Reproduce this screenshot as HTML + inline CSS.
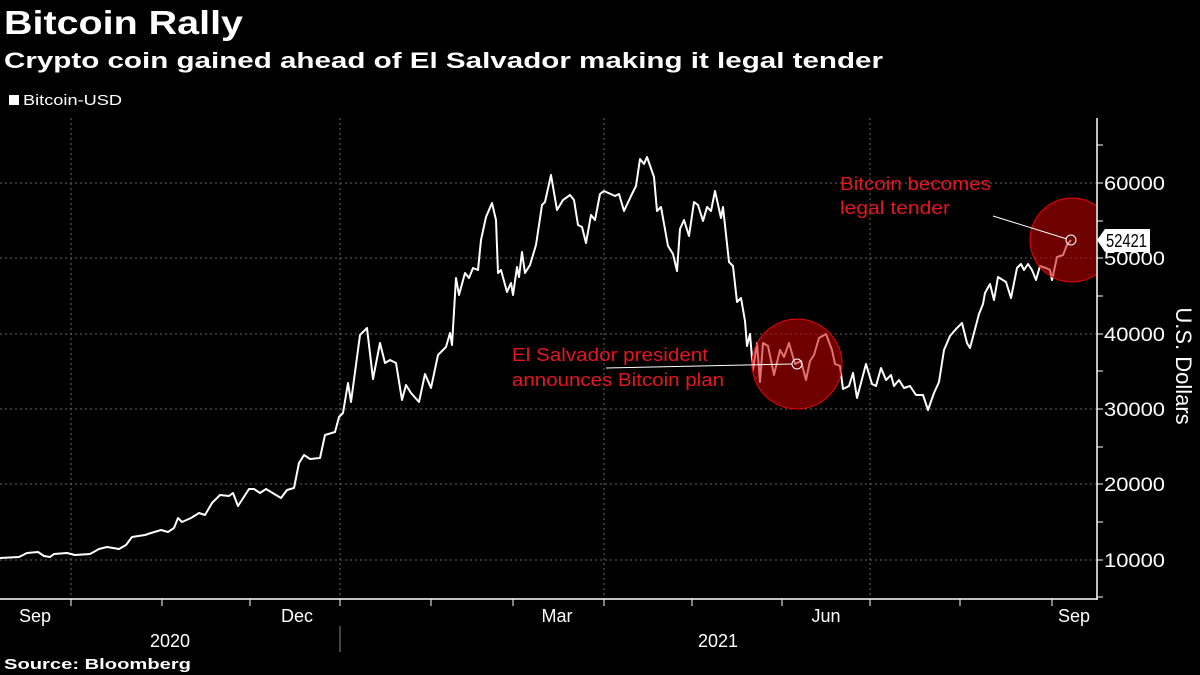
<!DOCTYPE html>
<html><head><meta charset="utf-8"><style>
html,body{margin:0;padding:0;background:#000;width:1200px;height:675px;overflow:hidden}
svg{display:block;font-family:"Liberation Sans",sans-serif}
</style></head><body>
<svg width="1200" height="675" viewBox="0 0 1200 675">
<rect width="1200" height="675" fill="#000"/>
<text x="4" y="34" fill="#fff" font-size="33" font-weight="bold" textLength="239" lengthAdjust="spacingAndGlyphs">Bitcoin Rally</text>
<text x="4" y="68" fill="#fff" font-size="22" font-weight="bold" textLength="879" lengthAdjust="spacingAndGlyphs">Crypto coin gained ahead of El Salvador making it legal tender</text>
<rect x="9" y="95" width="10" height="10" fill="#fff"/>
<text x="23" y="105" fill="#fff" font-size="15" textLength="99" lengthAdjust="spacingAndGlyphs">Bitcoin-USD</text>
<g stroke="#666" stroke-width="1" stroke-dasharray="2,3">
<line x1="0" y1="183" x2="1096" y2="183"/><line x1="0" y1="258" x2="1096" y2="258"/>
<line x1="0" y1="334" x2="1096" y2="334"/><line x1="0" y1="409" x2="1096" y2="409"/>
<line x1="0" y1="484" x2="1096" y2="484"/><line x1="0" y1="560" x2="1096" y2="560"/>
<line x1="71" y1="118" x2="71" y2="598"/><line x1="340" y1="118" x2="340" y2="598"/>
<line x1="604" y1="118" x2="604" y2="598"/><line x1="870" y1="118" x2="870" y2="598"/>
</g>
<polyline fill="none" stroke="#fff" stroke-width="2" stroke-linejoin="round" points="0,558 19,557 27,553 38,552 44,556 50,557 54,554 67,553 75,555 90,554 99,549 107,547 119,549 126,545 132,537 145,535 151,533 161,530 168,532 174,528 178,518 182,522 191,518 199,513 205,515 212,503 220,495 229,496 233,493 238,506 249,489 254,489 260,493 266,489 281,498 287,490 294,488 299,463 304,455 310,459 320,458 325,435 335,432 339,417 343,413 348,383 351,402 360,335 367,328 373,379 380,343 385,363 390,360 396,363 402,400 406,385 411,393 419,402 425,374 431,388 438,355 446,347 450,333 452,345 456,278 459,295 465,273 469,278 473,268 478,270 481,240 486,217 492,203 496,220 498,273 501,270 507,292 511,283 513,295 517,267 519,277 522,252 525,273 530,265 536,245 542,205 545,202 551,175 557,210 563,200 570,195 574,200 578,225 582,227 586,243 591,215 595,220 600,194 604,191 615,196 619,194 624,211 631,196 636,186 640,159 644,164 647,157 654,177 657,211 661,207 668,246 673,254 677,271 680,229 684,220 689,236 694,202 698,205 703,221 707,207 711,211 715,191 721,218 723,207 729,262 733,266 737,302 741,298 745,321 747,346 750,334 753,370 757,343 760,382 763,343 768,346 774,375 780,350 784,357 789,343 795,364 801,361 806,380 810,361 814,355 819,338 826,334 832,350 835,364 840,366 843,389 849,386 853,373 857,398 866,364 872,384 876,386 881,368 886,380 891,375 894,386 899,380 904,388 910,386 916,395 923,395 928,410 934,393 939,382 944,350 950,336 956,329 962,323 967,343 970,348 979,314 983,304 985,293 990,284 994,300 998,277 1006,282 1011,298 1017,268 1021,264 1024,270 1028,264 1032,270 1036,280 1040,266 1046,268 1050,270 1052,280 1057,257 1063,255 1067,245 1071,240"/>
<defs><clipPath id="c"><rect x="0" y="0" width="1096" height="600"/></clipPath></defs>
<g clip-path="url(#c)">
<circle cx="797" cy="364" r="45" fill="rgba(200,0,0,0.55)" stroke="#e00" stroke-width="1"/>
<circle cx="1072" cy="240" r="42" fill="rgba(200,0,0,0.55)" stroke="#e00" stroke-width="1"/>
</g>
<line x1="606" y1="368" x2="792" y2="364" stroke="#fff" stroke-width="1"/>
<circle cx="797" cy="364" r="5" fill="none" stroke="#fff" stroke-width="1"/>
<line x1="993" y1="216" x2="1067" y2="239" stroke="#fff" stroke-width="1"/>
<circle cx="1071" cy="240" r="5" fill="none" stroke="#fff" stroke-width="1"/>
<g fill="#e8141e" font-size="18" lengthAdjust="spacingAndGlyphs">
<text x="512" y="361" textLength="196" lengthAdjust="spacingAndGlyphs">El Salvador president</text>
<text x="512" y="386" textLength="212" lengthAdjust="spacingAndGlyphs">announces Bitcoin plan</text>
<text x="840" y="190" textLength="151" lengthAdjust="spacingAndGlyphs">Bitcoin becomes</text>
<text x="840" y="214" textLength="110" lengthAdjust="spacingAndGlyphs">legal tender</text>
</g>
<line x1="1097" y1="118" x2="1097" y2="600" stroke="#fff" stroke-width="1.5"/>
<g stroke="#fff" stroke-width="1">
<line x1="1097" y1="145" x2="1103" y2="145"/><line x1="1097" y1="183" x2="1103" y2="183"/>
<line x1="1097" y1="221" x2="1103" y2="221"/><line x1="1097" y1="258" x2="1103" y2="258"/>
<line x1="1097" y1="296" x2="1103" y2="296"/><line x1="1097" y1="334" x2="1103" y2="334"/>
<line x1="1097" y1="371" x2="1103" y2="371"/><line x1="1097" y1="409" x2="1103" y2="409"/>
<line x1="1097" y1="447" x2="1103" y2="447"/><line x1="1097" y1="484" x2="1103" y2="484"/>
<line x1="1097" y1="522" x2="1103" y2="522"/><line x1="1097" y1="560" x2="1103" y2="560"/>
<line x1="1097" y1="597" x2="1103" y2="597"/>
</g>
<g fill="#fff" font-size="19">
<text x="1104" y="190" textLength="61" lengthAdjust="spacingAndGlyphs">60000</text><text x="1104" y="265" textLength="61" lengthAdjust="spacingAndGlyphs">50000</text>
<text x="1104" y="341" textLength="61" lengthAdjust="spacingAndGlyphs">40000</text><text x="1104" y="416" textLength="61" lengthAdjust="spacingAndGlyphs">30000</text>
<text x="1104" y="491" textLength="61" lengthAdjust="spacingAndGlyphs">20000</text><text x="1104" y="567" textLength="61" lengthAdjust="spacingAndGlyphs">10000</text>
</g>
<polygon points="1097,240 1105,229 1150,229 1150,252 1105,252" fill="#fff"/>
<text x="1106" y="247" fill="#000" font-size="18" textLength="41" lengthAdjust="spacingAndGlyphs">52421</text>
<text transform="translate(1176,366) rotate(90)" fill="#fff" font-size="22" text-anchor="middle">U.S. Dollars</text>
<line x1="0" y1="599" x2="1097" y2="599" stroke="#fff" stroke-width="1.5"/>
<g stroke="#fff" stroke-width="1">
<line x1="71" y1="599" x2="71" y2="606"/><line x1="162" y1="599" x2="162" y2="606"/>
<line x1="250" y1="599" x2="250" y2="606"/><line x1="340" y1="599" x2="340" y2="606"/>
<line x1="431" y1="599" x2="431" y2="606"/><line x1="513" y1="599" x2="513" y2="606"/>
<line x1="604" y1="599" x2="604" y2="606"/><line x1="692" y1="599" x2="692" y2="606"/>
<line x1="782" y1="599" x2="782" y2="606"/><line x1="870" y1="599" x2="870" y2="606"/>
<line x1="960" y1="599" x2="960" y2="606"/><line x1="1052" y1="599" x2="1052" y2="606"/>
<line x1="340" y1="626" x2="340" y2="652" stroke="#888"/>
</g>
<g fill="#fff" font-size="18" text-anchor="middle">
<text x="35" y="622">Sep</text><text x="297" y="622">Dec</text>
<text x="557" y="622">Mar</text><text x="826" y="622">Jun</text>
<text x="1074" y="622">Sep</text>
<text x="170" y="647">2020</text><text x="718" y="647">2021</text>
</g>
<text x="4" y="669" fill="#fff" font-size="15" font-weight="bold" textLength="187" lengthAdjust="spacingAndGlyphs">Source: Bloomberg</text>
</svg>
</body></html>
